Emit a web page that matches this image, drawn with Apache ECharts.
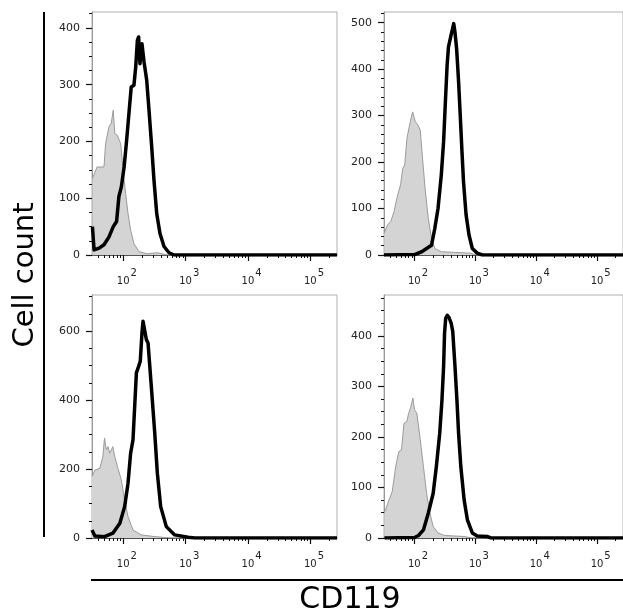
<!DOCTYPE html>
<html><head><meta charset="utf-8">
<script src="https://cdn.jsdelivr.net/npm/echarts@6/dist/echarts.min.js"></script>
<style>html,body{margin:0;padding:0;background:#fff}#c{width:623px;height:615px}</style>
</head><body><div id="c"></div>
<script>
// ---- tick labels ----
const xMajorTicks = [100, 1000, 10000, 100000];
const xMinorTicks = [40, 50, 60, 70, 80, 90,
  200, 300, 400, 500, 600, 700, 800, 900,
  2000, 3000, 4000, 5000, 6000, 7000, 8000, 9000,
  20000, 30000, 40000, 50000, 60000, 70000, 80000, 90000, 200000];
const xMin = 31.5, xMax = 265500;

const yMajorTL = [0, 100, 200, 300, 400];
const yMajorTR = [0, 100, 200, 300, 400, 500];
const yMajorBL = [0, 200, 400, 600];
const yMajorBR = [0, 100, 200, 300, 400];
const yMaxTL = 428, yMaxTR = 523, yMaxBL = 705, yMaxBR = 481;
const yMinorStepTL = 25, yMinorStepTR = 20, yMinorStepBL = 50, yMinorStepBR = 25;

// ---- series values: [CD119 intensity, cell count] ----
const tlControl = [[32,135],[38,155],[49,155],[52,196],[59,226],[64,232],[69,255],[73,214],[80,211],[91,196],[100,144],[109,108],[119,73],[131,44],[148,20],[178,6],[243,2],[351,4],[508,0],[265500,0]];
const tlCD119 = [[32,50],[34,9],[41,12],[49,18],[59,32],[69,50],[78,59],[85,103],[93,120],[103,155],[113,202],[123,249],[134,296],[148,299],[158,331],[168,378],[176,384],[185,337],[199,372],[215,340],[237,308],[258,255],[285,191],[310,132],[343,73],[387,38],[449,15],[540,4],[650,0],[265500,0]];

const trControl = [[31.8,47],[36,65],[40.6,72],[46,93],[52,126],[59,151],[64,186],[69,194],[75,251],[85,287],[93,308],[103,287],[113,280],[124,269],[134,215],[149,143],[168,79],[190,36],[215,14],[275,7],[834,4],[1000,0],[265500,0]];
const trCD119 = [[31.5,0],[100,1],[131,7],[190,21],[215,57],[243,100],[275,172],[300,244],[323,337],[343,409],[361,448],[398,473],[440,498],[461,480],[491,444],[529,373],[563,301],[598,229],[637,158],[703,86],[785,43],[889,14],[1069,4],[1300,0],[265500,0]];

const blControl = [[31.5,178],[35,197],[42,202],[47,236],[50,290],[53.5,256],[57,265],[60.5,246],[68,265],[73,236],[82,202],[93,169],[105,110],[119,62],[143,23],[194,9],[319,4],[588,0],[265500,0]];
const blCD119 = [[31.5,23],[35,6],[50,4],[68,14],[88,43],[105,91],[119,159],[131,246],[143,285],[162,479],[176,498],[187,513],[200,600],[207,629],[214,625],[220,634],[234,576],[249,566],[281,440],[319,304],[351,188],[397,91],[489,33],[667,9],[1089,2],[1400,0],[265500,0]];

const brControl = [[31.8,49],[38,75],[43,92],[49,141],[55,171],[61,174],[67,227],[75,231],[80,247],[87,260],[94,277],[100,254],[109,247],[116,244],[124,195],[140,141],[158,88],[179,49],[202,23],[243,10],[312,5],[653,3],[889,0],[265500,0]];
const brCD119 = [[32,0],[100,1],[116,5],[140,16],[168,49],[202,88],[228,141],[259,207],[282,273],[300,339],[311,405],[325,435],[345,441],[370,436],[400,425],[424,409],[462,339],[497,273],[529,207],[576,141],[653,75],[738,36],[889,10],[1069,4],[1550,3],[1800,0],[265500,0]];

const yTitle = 'Cell count';
const xTitle = 'CD119';

// ---- build chart ----
const FONT = 'DejaVu Sans';
function minorTicks(step, max) { const a = []; for (let v = step; v <= max; v += step) a.push(v); return a; }
const lg = v => Math.log10(v);

const panels = [
  { left: 92,  top: 12,  yMax: yMaxTL, yMajor: yMajorTL, yStep: yMinorStepTL, control: tlControl, cd: tlCD119 },
  { left: 384, top: 12,  yMax: yMaxTR, yMajor: yMajorTR, yStep: yMinorStepTR, control: trControl, cd: trCD119 },
  { left: 92,  top: 295, yMax: yMaxBL, yMajor: yMajorBL, yStep: yMinorStepBL, control: blControl, cd: blCD119 },
  { left: 384, top: 295, yMax: yMaxBR, yMajor: yMajorBR, yStep: yMinorStepBR, control: brControl, cd: brCD119 }
];
const TICK = '#111';
const grid = [], xAxis = [], yAxis = [], series = [];
panels.forEach((p, i) => {
  grid.push({ left: p.left, top: p.top, width: 245, height: 243, show: true,
    borderColor: '#b0b0b0', borderWidth: 1, backgroundColor: 'transparent' });
  // data axis (log) with decade labels
  xAxis.push({
    type: 'log', logBase: 10, gridIndex: i, min: xMin, max: xMax, position: 'bottom',
    axisLine: { show: true, lineStyle: { color: '#555', width: 1 } },
    axisTick: { show: false },
    axisLabel: {
      customValues: xMajorTicks, margin: 13,
      formatter: v => '{b|10}{s|' + Math.round(Math.log10(v)) + '}',
      rich: {
        b: { fontSize: 10, fontFamily: FONT, color: '#222', verticalAlign: 'bottom', padding: [0, 1, 0, 7] },
        s: { fontSize: 10, fontFamily: FONT, color: '#222', verticalAlign: 'bottom', padding: [0, 0, 8, 0] }
      }
    },
    splitLine: { show: false }
  });
  // decade-space axes that carry the major / minor tick marks
  xAxis.push({
    type: 'value', gridIndex: i, min: lg(xMin), max: lg(xMax), position: 'bottom',
    axisLine: { show: false },
    axisTick: { show: true, length: 6, customValues: xMajorTicks.map(v => lg(v)), lineStyle: { color: TICK, width: 1.2 } },
    axisLabel: { show: false }, splitLine: { show: false }
  });
  xAxis.push({
    type: 'value', gridIndex: i, min: lg(xMin), max: lg(xMax), position: 'bottom',
    axisLine: { show: false },
    axisTick: { show: true, length: 3, customValues: xMinorTicks.map(v => lg(v)), lineStyle: { color: TICK, width: 1 } },
    axisLabel: { show: false }, splitLine: { show: false }
  });
  yAxis.push({
    type: 'value', gridIndex: i, min: 0, max: p.yMax, position: 'left',
    axisLine: { show: true, lineStyle: { color: '#999', width: 1 } },
    axisTick: { show: true, length: 6, customValues: p.yMajor, lineStyle: { color: TICK, width: 1.2 } },
    axisLabel: { customValues: p.yMajor, fontSize: 11, fontFamily: FONT, color: '#222', margin: 12 },
    splitLine: { show: false }
  });
  yAxis.push({
    type: 'value', gridIndex: i, min: 0, max: p.yMax, position: 'left',
    axisLine: { show: false },
    axisTick: { show: true, length: 3, customValues: minorTicks(p.yStep, p.yMax), lineStyle: { color: TICK, width: 1 } },
    axisLabel: { show: false }, splitLine: { show: false }
  });
  series.push({
    type: 'line', xAxisIndex: 3 * i, yAxisIndex: 2 * i, data: p.control, showSymbol: false, symbol: 'none',
    lineStyle: { color: '#9a9a9a', width: 1 }, areaStyle: { color: '#d4d4d4', opacity: 1 }, z: 2
  });
  series.push({
    type: 'line', xAxisIndex: 3 * i, yAxisIndex: 2 * i, data: p.cd, showSymbol: false, symbol: 'none',
    lineStyle: { color: '#000', width: 3.5, join: 'round' }, z: 3
  });
});

const chart = echarts.init(document.getElementById('c'), null, { renderer: 'canvas' });
chart.setOption({
  animation: false,
  backgroundColor: '#fff',
  grid, xAxis, yAxis, series,
  graphic: [
    { type: 'line', shape: { x1: 44, y1: 12, x2: 44, y2: 537 }, style: { stroke: '#000', lineWidth: 2 } },
    { type: 'line', shape: { x1: 91, y1: 580, x2: 623, y2: 580 }, style: { stroke: '#000', lineWidth: 2 } },
    { type: 'text', x: 25, y: 275, rotation: Math.PI / 2,
      style: { text: yTitle, fontSize: 29, fontFamily: FONT, fill: '#000', align: 'center', verticalAlign: 'middle' } },
    { type: 'text', x: 350, y: 600,
      style: { text: xTitle, fontSize: 30, fontFamily: FONT, fill: '#000', align: 'center', verticalAlign: 'middle' } }
  ]
});
</script>
</body></html>
